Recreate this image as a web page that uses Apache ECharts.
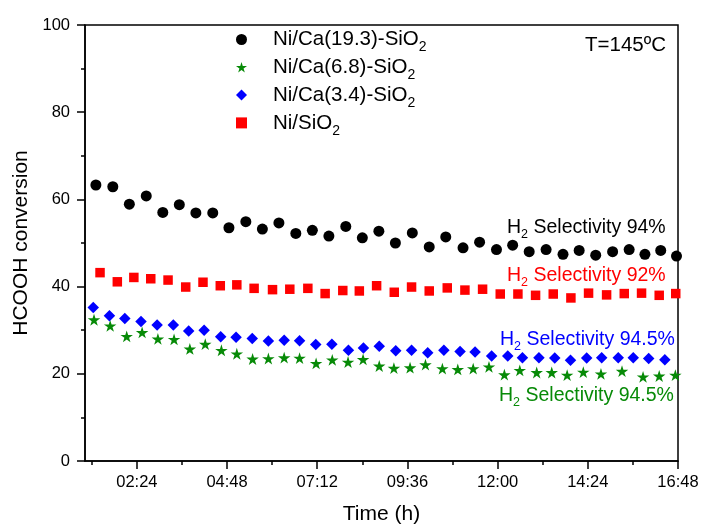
<!DOCTYPE html>
<html>
<head>
<meta charset="utf-8">
<script src="https://cdn.jsdelivr.net/npm/echarts@6/dist/echarts.min.js"></script>
<style>
  html, body { margin: 0; padding: 0; background: #fff; }
  #main { width: 702px; height: 530px; }
</style>
</head>
<body>
<div id="main"></div>
<script>
// time in hours, conversion in %
var timeCa193 = [1.31, 1.76, 2.20, 2.65, 3.09, 3.53, 3.97, 4.42, 4.85, 5.30, 5.74, 6.18, 6.63, 7.07, 7.51, 7.96, 8.40, 8.84, 9.28, 9.73, 10.18, 10.62, 11.08, 11.52, 11.97, 12.40, 12.84, 13.29, 13.74, 14.17, 14.61, 15.06, 15.50, 15.92, 16.34, 16.76];
var convCa193 = [63.3, 62.9, 58.9, 60.8, 57.0, 58.8, 56.9, 56.9, 53.5, 54.9, 53.2, 54.6, 52.2, 52.9, 51.6, 53.8, 51.2, 52.7, 50.0, 52.3, 49.1, 51.4, 48.9, 50.2, 48.5, 49.5, 48.0, 48.5, 47.4, 48.3, 47.2, 48.0, 48.5, 47.4, 48.3, 47.0];

var timeCa68 = [1.26, 1.69, 2.13, 2.54, 2.96, 3.39, 3.81, 4.22, 4.65, 5.06, 5.48, 5.90, 6.32, 6.73, 7.17, 7.60, 8.02, 8.42, 8.85, 9.24, 9.67, 10.08, 10.53, 10.94, 11.35, 11.77, 12.18, 12.59, 13.04, 13.44, 13.85, 14.28, 14.75, 15.31, 15.87, 16.30, 16.73];
var convCa68 = [32.4, 31.0, 28.6, 29.5, 28.0, 27.9, 25.7, 26.8, 25.4, 24.6, 23.4, 23.5, 23.7, 23.6, 22.4, 23.2, 22.7, 23.3, 21.8, 21.3, 21.4, 22.1, 21.2, 21.0, 21.2, 21.6, 19.8, 20.8, 20.3, 20.3, 19.7, 20.4, 20.0, 20.6, 19.3, 19.5, 19.7];

var timeCa34 = [1.24, 1.67, 2.08, 2.51, 2.94, 3.37, 3.78, 4.19, 4.63, 5.04, 5.47, 5.90, 6.32, 6.73, 7.16, 7.59, 8.03, 8.43, 8.85, 9.29, 9.71, 10.14, 10.57, 11.00, 11.40, 11.84, 12.27, 12.66, 13.10, 13.52, 13.94, 14.37, 14.77, 15.21, 15.61, 16.02, 16.45];
var convCa34 = [35.2, 33.3, 32.7, 32.0, 31.2, 31.2, 29.8, 30.0, 28.5, 28.4, 28.1, 27.5, 27.7, 27.6, 26.7, 26.8, 25.4, 25.9, 26.3, 25.3, 25.4, 24.8, 25.4, 25.1, 25.0, 24.1, 24.1, 23.7, 23.7, 23.6, 23.1, 23.6, 23.7, 23.7, 23.7, 23.5, 23.2];

var timeNi = [0.97, 1.42, 1.88, 2.32, 2.77, 3.23, 3.70, 4.16, 4.62, 5.06, 5.52, 6.01, 6.47, 6.95, 7.41, 7.88, 8.32, 8.78, 9.25, 9.71, 10.18, 10.66, 11.13, 11.60, 12.07, 12.54, 13.01, 13.48, 13.95, 14.42, 14.90, 15.37, 15.83, 16.30, 16.74];
var convNi = [42.6, 43.2, 41.1, 42.1, 41.8, 41.5, 39.9, 41.0, 40.2, 40.4, 39.6, 39.3, 39.4, 39.6, 38.4, 39.1, 39.0, 40.2, 38.7, 39.9, 39.0, 39.7, 39.2, 39.4, 38.3, 38.3, 38.0, 38.3, 37.4, 38.5, 38.1, 38.4, 38.5, 38.0, 38.4];

var majorTicks = [2.4, 4.8, 7.2, 9.6, 12, 14.4, 16.8];
var minorTicks = [1.2, 3.6, 6.0, 8.4, 10.8, 13.2, 15.6];

var seriesNames = ['Ni/Ca(19.3)-SiO2', 'Ni/Ca(6.8)-SiO2', 'Ni/Ca(3.4)-SiO2', 'Ni/SiO2'];

var FONT = "'Liberation Sans', Arial, sans-serif";
var STAR = 'path://M50,0 L61,35 L98,35 L68,57 L79,91 L50,70 L21,91 L32,57 L2,35 L39,35 Z';
var GREEN = '#078a07';

function pairs(xs, ys) {
    var out = [];
    for (var i = 0; i < xs.length; i++) out.push([xs[i], ys[i]]);
    return out;
}

function hhmm(v) {
    var m = Math.round(v * 60);
    var h = Math.floor(m / 60), mm = m % 60;
    return (h < 10 ? '0' : '') + h + ':' + (mm < 10 ? '0' : '') + mm;
}

// H2 Selectivity labels
function selText(txt, color, x, y) {
    return {
        type: 'text',
        x: x,
        y: y,
        z: 100,
        style: {
            text: '{a|H}{s|2}{a| Selectivity ' + txt + '}',
            fill: color,
            align: 'left',
            verticalAlign: 'middle',
            font: '19.5px ' + FONT,
            rich: {
                a: { fontSize: 19.5, fontFamily: FONT, lineHeight: 26, fill: color },
                s: { fontSize: 12.5, fontFamily: FONT, lineHeight: 12.5, verticalAlign: 'bottom', fill: color }
            }
        }
    };
}

var chart = echarts.init(document.getElementById('main'));

var option = {
    backgroundColor: '#fff',
    animation: false,
    grid: {
        left: 85, right: 24, top: 25, bottom: 66,
        show: true, borderColor: '#000', borderWidth: 1.5, backgroundColor: 'transparent'
    },
    legend: {
        orient: 'vertical',
        left: 236,
        top: 29,
        padding: 0,
        itemGap: 2.3,
        itemWidth: 11,
        itemHeight: 11,
        data: seriesNames,
        formatter: function (name) {
            return '{a|' + name.slice(0, -1) + '}{s|2}';
        },
        textStyle: {
            rich: {
                a: { fontSize: 20.5, fontFamily: FONT, color: '#000', lineHeight: 30, padding: [0, 0, 0, 21] },
                s: { fontSize: 14, fontFamily: FONT, color: '#000', lineHeight: 14, verticalAlign: 'bottom' }
            }
        }
    },
    xAxis: [
        {
            type: 'value',
            min: 1.02,
            max: 16.8,
            name: 'Time (h)',
            nameLocation: 'middle',
            nameGap: 43,
            nameTextStyle: { fontSize: 21, fontFamily: FONT, color: '#000' },
            axisLine: { show: true, lineStyle: { color: '#000', width: 1.5 } },
            axisTick: { show: true, inside: false, length: 8, customValues: majorTicks, lineStyle: { color: '#000', width: 1.5 } },
            axisLabel: { customValues: majorTicks, formatter: hhmm, fontSize: 16.5, fontFamily: FONT, color: '#000', margin: 13 },
            splitLine: { show: false }
        },
        {
            type: 'value',
            min: 1.02,
            max: 16.8,
            position: 'bottom',
            axisLine: { show: false },
            axisTick: { show: true, inside: false, length: 4, customValues: minorTicks, lineStyle: { color: '#000', width: 1.5 } },
            axisLabel: { show: false },
            splitLine: { show: false }
        }
    ],
    yAxis: {
        type: 'value',
        min: 0,
        max: 100,
        interval: 20,
        name: 'HCOOH conversion',
        nameLocation: 'middle',
        nameGap: 49,
        nameTextStyle: { fontSize: 21, fontFamily: FONT, color: '#000' },
        axisLine: { show: true, lineStyle: { color: '#000', width: 1.5 } },
        axisTick: { show: true, inside: false, length: 8, lineStyle: { color: '#000', width: 1.5 } },
        minorTick: { show: true, splitNumber: 2, length: 4, lineStyle: { color: '#000', width: 1.5 } },
        axisLabel: { fontSize: 16.5, fontFamily: FONT, color: '#000', margin: 15 },
        splitLine: { show: false }
    },
    series: [
        {
            name: seriesNames[0], type: 'scatter', symbol: 'circle', symbolSize: 11,
            itemStyle: { color: '#000', opacity: 1 }, data: pairs(timeCa193, convCa193)
        },
        {
            name: seriesNames[1], type: 'scatter', symbol: STAR, symbolSize: 12.5, symbolKeepAspect: true,
            itemStyle: { color: GREEN, opacity: 1 }, data: pairs(timeCa68, convCa68)
        },
        {
            name: seriesNames[2], type: 'scatter', symbol: 'diamond', symbolSize: 11.5,
            itemStyle: { color: '#0000ff', opacity: 1 }, data: pairs(timeCa34, convCa34)
        },
        {
            name: seriesNames[3], type: 'scatter', symbol: 'rect', symbolSize: 9.5,
            itemStyle: { color: '#ff0000', opacity: 1 }, data: pairs(timeNi, convNi)
        }
    ],
    graphic: [
        {
            type: 'text', x: 585, y: 45, z: 100,
            style: { text: 'T=145ºC', font: '20.5px ' + FONT, fill: '#000', align: 'left', verticalAlign: 'middle' }
        },
        selText('94%', '#000', 507, 228),
        selText('92%', '#ff0000', 507, 276),
        selText('94.5%', '#0000ff', 500, 340),
        selText('94.5%', GREEN, 499, 396)
    ]
};

chart.setOption(option);
</script>
</body>
</html>
